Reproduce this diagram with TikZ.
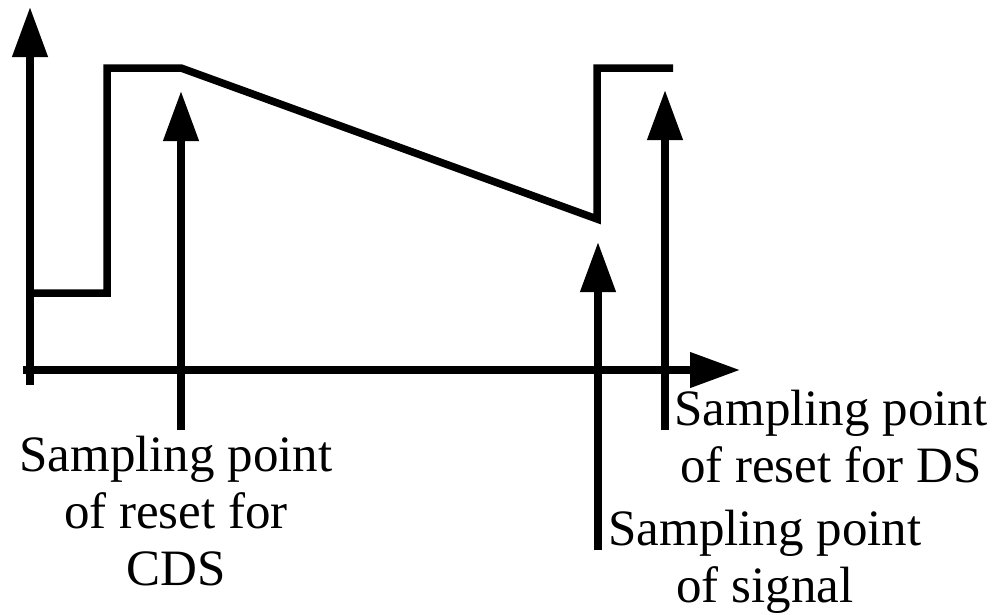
\documentclass[tikz,border=0pt]{standalone}
\usepackage{fontspec}
\setmainfont{Liberation Serif}
\usetikzlibrary{arrows.meta}
\begin{document}
\begin{tikzpicture}[x=1pt,y=-1pt,
  wire/.style={line width=7.5pt,line cap=butt,line join=miter},
  tiparrow/.style={wire,-{Triangle[width=34pt,length=50pt]}},
  caption/.style={align=center,font=\fontsize{51}{57}\selectfont,inner sep=0pt,anchor=base}]
\useasboundingbox (0,0) rectangle (996,614);

% axes
\coordinate (yfoot) at (30,385);
\coordinate (ytop)  at (30,7);
\coordinate (xfoot) at (23,370);
\coordinate (xtip)  at (740,370);
\draw[tiparrow] (yfoot) -- (ytop);
\draw[tiparrow] (xfoot) -- (xtip);

% pixel output waveform: reset level, decay, then next reset
\coordinate (w0) at (30,293);
\coordinate (w1) at (107,293);
\coordinate (w2) at (107,68);
\coordinate (w3) at (181,68);
\coordinate (w4) at (597,219);
\coordinate (w5) at (597,68);
\coordinate (w6) at (673,68);
\draw[wire] (w0) -- (w1) -- (w2) -- (w3) -- (w4) -- (w5) -- (w6);

% sampling markers
\coordinate (cdsfoot) at (181,430);
\coordinate (cdstip)  at (181,91);
\coordinate (sigfoot) at (598,550);
\coordinate (sigtip)  at (598,242);
\coordinate (dsfoot)  at (665,430);
\coordinate (dstip)   at (665,90);
\draw[tiparrow] (cdsfoot) -- (cdstip);
\draw[tiparrow] (sigfoot) -- (sigtip);
\draw[tiparrow] (dsfoot) -- (dstip);

% captions (anchored at the baseline of their last line)
\node[caption] (cdslabel) at (176,585) {Sampling point\\of reset for\\CDS};
\node[caption] (dslabel)  at (831,482) {Sampling point\\of reset for DS};
\node[caption] (siglabel) at (765,602) {Sampling point\\of signal};
\end{tikzpicture}
\end{document}
